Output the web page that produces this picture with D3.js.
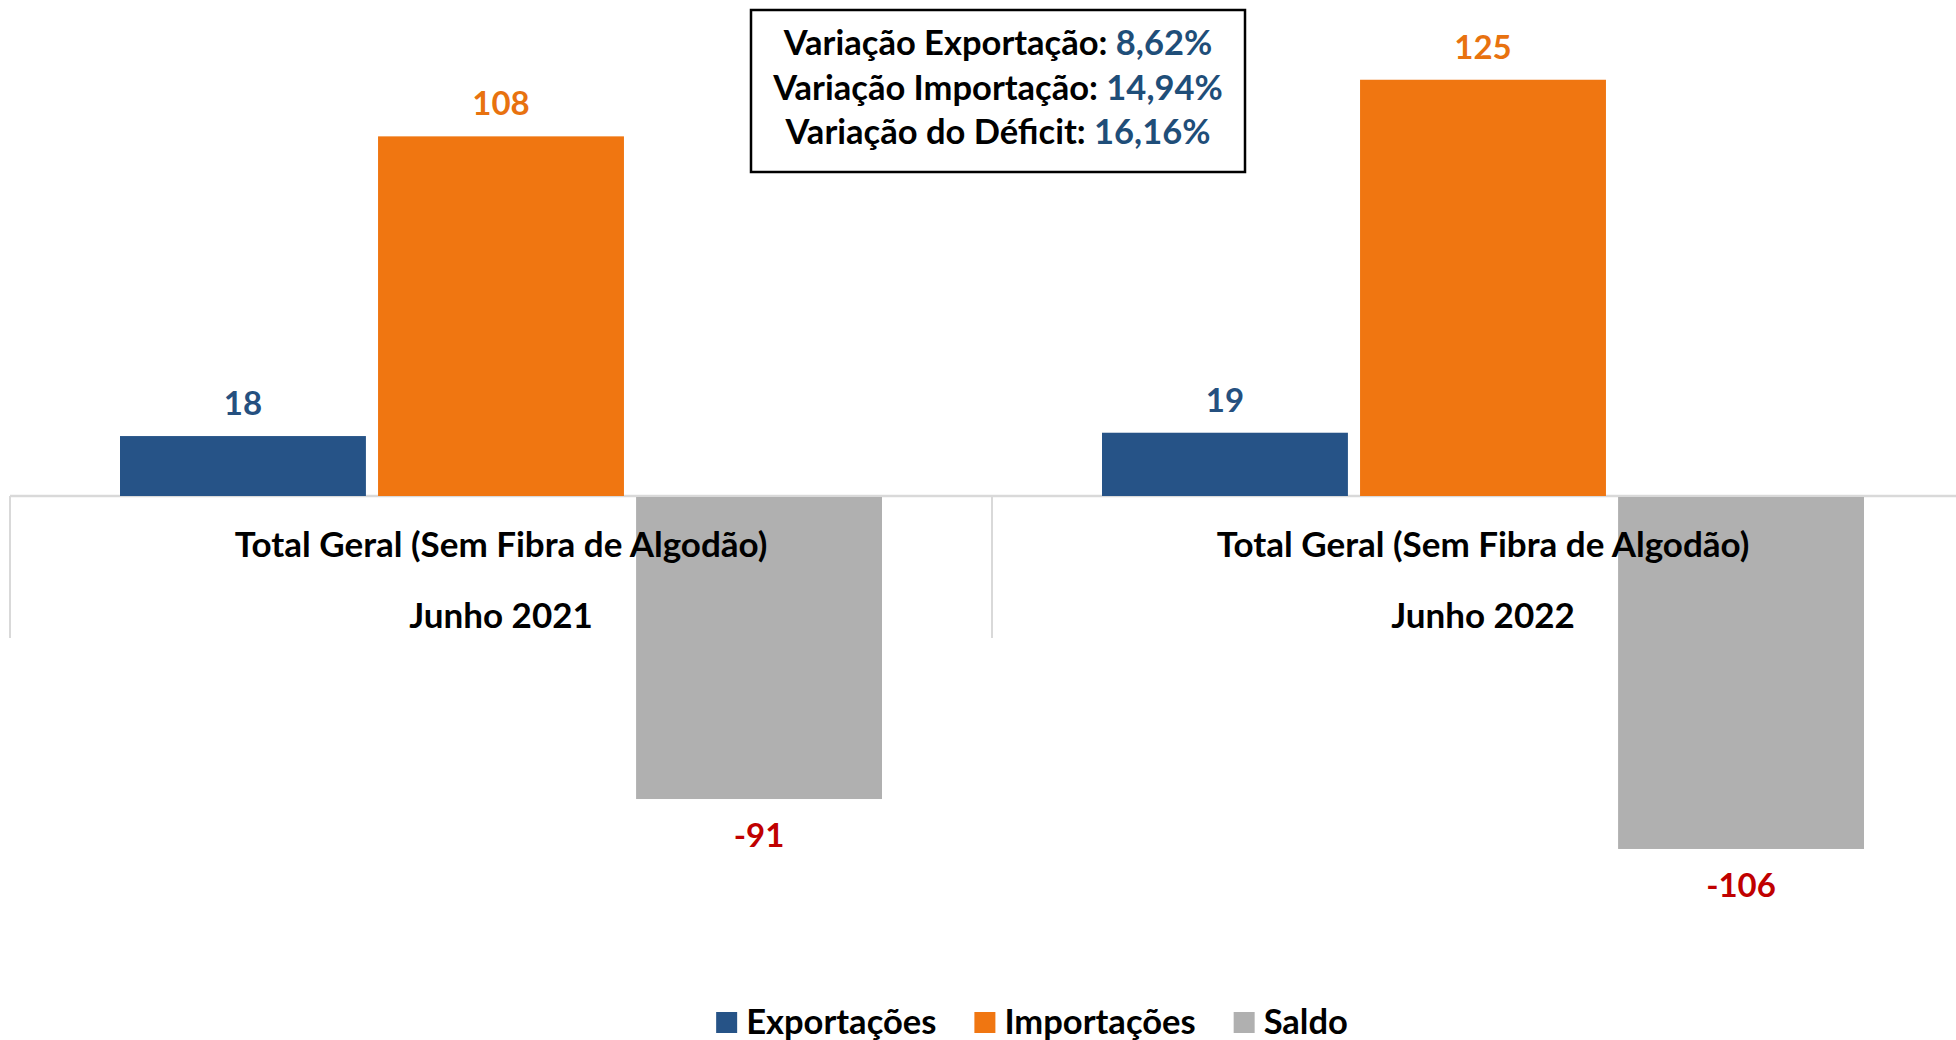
<!DOCTYPE html>
<html>
<head>
<meta charset="utf-8">
<script src="https://cdn.jsdelivr.net/npm/d3@7"></script>
<style>
  body { margin: 0; background: #fff; }
  svg { display: block; font-family: Lato, "Open Sans", sans-serif; font-weight: bold; }
</style>
</head>
<body>
<svg id="chart"></svg>
<script>
var width = 1956;
var height = 1040;

// data
var categories = ["Junho 2021", "Junho 2022"];
var categoryTitle = "Total Geral (Sem Fibra de Algodão)";
var series = ["Exportações", "Importações", "Saldo"];
var exportacoes = [18, 19];
var importacoes = [108, 125];
var saldo = [-91, -106];
var variationLabels = ["Variação Exportação: ", "Variação Importação: ", "Variação do Déficit: "];
var variationValues = ["8,62%", "14,94%", "16,16%"];

var barColors = { "Exportações": "#265387", "Importações": "#F07611", "Saldo": "#B0B0B0" };

var rows = categories.map(function (c, i) {
  return [
    { cat: c, key: "Exportações", value: exportacoes[i] },
    { cat: c, key: "Importações", value: importacoes[i] },
    { cat: c, key: "Saldo", value: saldo[i] }
  ];
});

var svg = d3.select("#chart").attr("width", width).attr("height", height);

// the plot area runs past the right edge, like the original
var x0 = d3.scaleBand().domain(categories).range([10, 1974]).padding(0);
var x1 = d3.scaleBand().domain(series).range([110, 872]).paddingInner(0.047).paddingOuter(0);
var y = d3.scaleLinear().domain([0, 100]).range([496, 163]);

// category axis: zero line + dividers
svg.append("line")
  .attr("x1", 10).attr("x2", width)
  .attr("y1", y(0)).attr("y2", y(0))
  .attr("stroke", "#D9D9D9").attr("stroke-width", 2.5);

var dividers = categories.map(function (c) { return x0(c); });
svg.selectAll(".divider")
  .data(dividers)
  .enter()
  .append("line")
  .attr("class", "divider")
  .attr("x1", function (d) { return d; })
  .attr("x2", function (d) { return d; })
  .attr("y1", y(0))
  .attr("y2", 638)
  .attr("stroke", "#D9D9D9")
  .attr("stroke-width", 2);

var groups = svg.selectAll(".group")
  .data(rows)
  .enter()
  .append("g")
  .attr("class", "group")
  .attr("transform", function (d, i) { return "translate(" + x0(categories[i]) + ",0)"; });

groups.selectAll("rect")
  .data(function (d) { return d; })
  .enter()
  .append("rect")
  .attr("x", function (d) { return x1(d.key); })
  .attr("width", x1.bandwidth())
  .attr("y", function (d) { return d.value >= 0 ? y(d.value) : y(0) + 1; })
  .attr("height", function (d) { return Math.abs(y(d.value) - y(0)) - (d.value < 0 ? 1 : 0); })
  .attr("fill", function (d) { return barColors[d.key]; });

// category labels drawn over the bars
groups.append("text")
  .attr("x", x0.bandwidth() / 2)
  .attr("y", 557)
  .attr("text-anchor", "middle")
  .attr("font-size", 35)
  .attr("fill", "#000")
  .text(categoryTitle);

groups.append("text")
  .attr("x", x0.bandwidth() / 2)
  .attr("y", 628)
  .attr("text-anchor", "middle")
  .attr("font-size", 35)
  .attr("fill", "#000")
  .text(function (d, i) { return categories[i]; });

var labelColors = { "Exportações": "#25507F", "Importações": "#E8720F", "Saldo": "#C00000" };

groups.selectAll(".value")
  .data(function (d) { return d; })
  .enter()
  .append("text")
  .attr("class", "value")
  .attr("x", function (d) { return x1(d.key) + x1.bandwidth() / 2; })
  .attr("y", function (d) { return d.value >= 0 ? y(d.value) - 21 : y(d.value) + 48; })
  .attr("text-anchor", "middle")
  .attr("font-size", 33)
  .attr("fill", function (d) { return labelColors[d.key]; })
  .text(function (d) { return d.value; });

// variation box
svg.append("rect")
  .attr("x", 751).attr("y", 10)
  .attr("width", 494).attr("height", 162)
  .attr("fill", "#fff")
  .attr("stroke", "#000")
  .attr("stroke-width", 2.5);

var boxText = svg.selectAll(".boxline")
  .data(variationLabels)
  .enter()
  .append("text")
  .attr("class", "boxline")
  .attr("x", 998)
  .attr("y", function (d, i) { return 55 + i * 44.5; })
  .attr("text-anchor", "middle")
  .attr("font-size", 34.5);

boxText.append("tspan").attr("fill", "#000").text(function (d) { return d; });
boxText.append("tspan").attr("fill", "#1F4E79").text(function (d, i) { return variationValues[i]; });

// legend
var legend = svg.append("g").attr("class", "legend");
var lx = 0;
series.forEach(function (s) {
  var item = legend.append("g").attr("transform", "translate(" + lx + ",0)");
  item.append("rect")
    .attr("x", 0).attr("y", -10)
    .attr("width", 21).attr("height", 21)
    .attr("fill", barColors[s]);
  var t = item.append("text")
    .attr("x", 30).attr("y", 12)
    .attr("font-size", 34.5)
    .attr("fill", "#000")
    .text(s);
  lx += 30 + t.node().getComputedTextLength() + 38;
});
var legendWidth = lx - 38;
legend.attr("transform", "translate(" + (1032 - legendWidth / 2) + ",1022)");
</script>
</body>
</html>
